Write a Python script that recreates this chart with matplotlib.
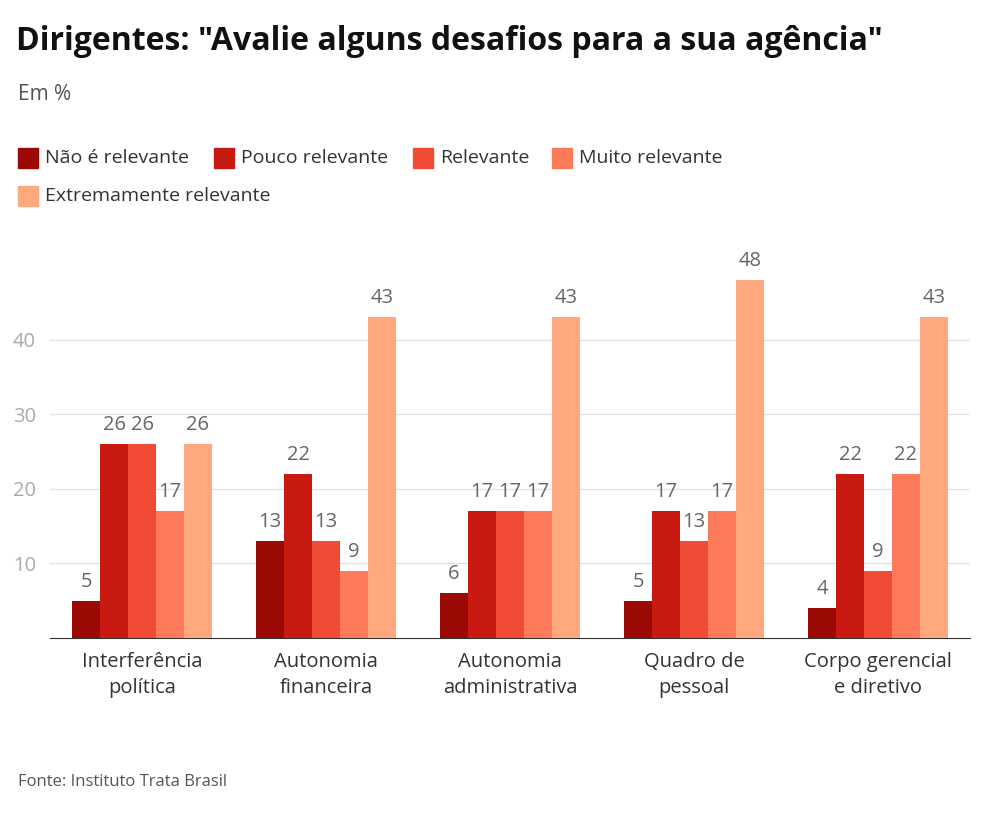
import numpy as np
import matplotlib.pyplot as plt

plt.rcParams['font.family'] = ['Open Sans', 'DejaVu Sans']

categorias = ["Interferência\npolítica", "Autonomia\nfinanceira", "Autonomia\nadministrativa",
              "Quadro de\npessoal", "Corpo gerencial\ne diretivo"]
series = ["Não é relevante", "Pouco relevante", "Relevante", "Muito relevante",
          "Extremamente relevante"]
valores = [
    [5, 13, 6, 5, 4],
    [26, 22, 17, 17, 22],
    [26, 13, 17, 13, 9],
    [17, 9, 17, 17, 22],
    [26, 43, 43, 48, 43],
]
cores = ["#9c0a05", "#c91a12", "#f04c35", "#fd7b5a", "#ffa87e"]

fig = plt.figure(figsize=(9.84, 8.25), dpi=100)
ax = fig.add_axes([50/984, 1-638/825, 920/984, 388/825])

x = np.arange(len(categorias))
w = 0.152
for i, (nome, vals, cor) in enumerate(zip(series, valores, cores)):
    pos = x + (i - 2) * w
    ax.bar(pos, vals, w, color=cor, label=nome, zorder=3)
    for p, v in zip(pos, vals):
        ax.text(p, v + 1.2, str(v), ha='center', va='bottom', fontsize=14.5, color='#666666')

ax.set_xlim(-0.5, 4.5)
ax.set_ylim(0, 52)
ax.set_yticks([10, 20, 30, 40])
ax.tick_params(axis='y', length=0, labelsize=14.5, labelcolor='#aaaaaa', pad=10)
ax.set_xticks(x)
ax.set_xticklabels(categorias, fontsize=14.5, color='#333333', linespacing=1.4)
ax.tick_params(axis='x', length=0, pad=10)
ax.grid(axis='y', color='#e3e3e3', lw=1, zorder=0)
for s in ['top', 'right', 'left']:
    ax.spines[s].set_visible(False)
ax.spines['bottom'].set_color('#333333')

fig.text(16/984, 1-42/825, 'Dirigentes: "Avalie alguns desafios para a sua agência"',
         fontsize=23, fontweight='bold', va='center', color='#111111')
fig.text(18/984, 1-94/825, "Em %", fontsize=15, va='center', color='#555555')
fig.text(18/984, 1-782/825, "Fonte: Instituto Trata Brasil", fontsize=12, va='center', color='#555555')

# legenda manual em duas linhas
leg_pos = [(18, 158), (214, 158), (413, 158), (552, 158), (18, 196)]
for (lx, ly), nome, cor in zip(leg_pos, series, cores):
    fig.patches.append(plt.Rectangle((lx/984, 1-(ly+10)/825), 20/984, 20/825,
                                     color=cor, transform=fig.transFigure))
    fig.text((lx+27)/984, 1-ly/825, nome, fontsize=14, va='center', color='#333333')

fig.savefig("out.png", dpi=100)
